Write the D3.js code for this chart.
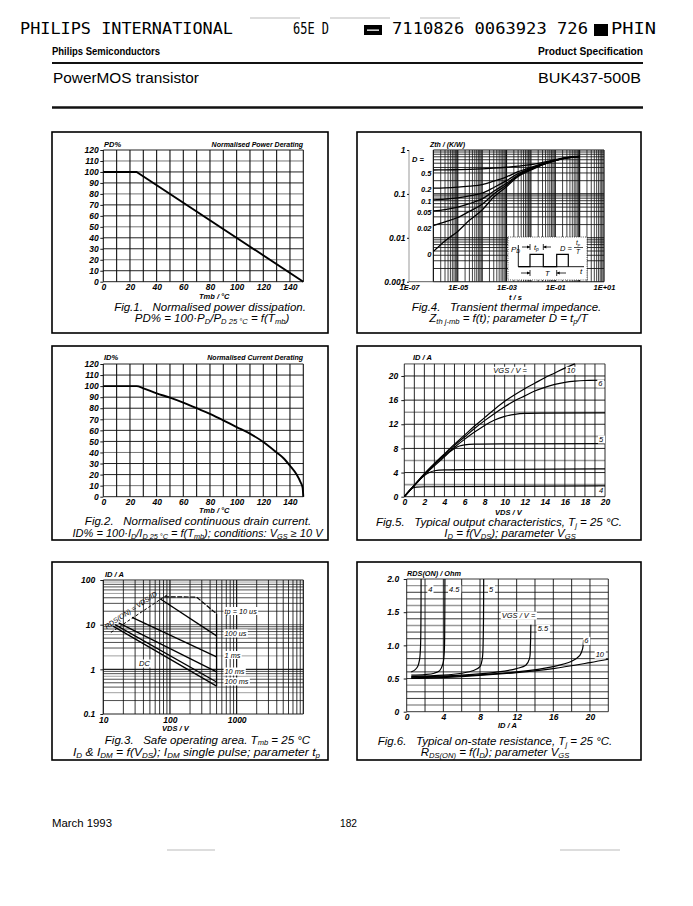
<!DOCTYPE html>
<html><head><meta charset="utf-8">
<script src="https://cdn.jsdelivr.net/npm/d3@7"></script>
<style>html,body{margin:0;padding:0;background:#fff}svg{display:block}</style>
</head><body>
<svg id="page" width="693" height="906"></svg>
<script>
// ================= DATA =================
// Fig.1 power derating
const fig1TicksX=[0,20,40,60,80,100,120,140];
const fig1TicksY=[0,10,20,30,40,50,60,70,80,90,100,110,120];
const fig1Temp=[0,25,150];
const fig1PD=[100,100,0];
// Fig.2 current derating
const fig2TicksX=[0,20,40,60,80,100,120,140];
const fig2TicksY=[0,10,20,30,40,50,60,70,80,90,100,110,120];
const fig2Temp=[0,25,30,40,50,60,70,80,90,100,110,120,130,135,140,145,148,149.5,150];
const fig2ID=[100,100,98,93.5,89.5,85,80,75,69,63,57,49.5,40,35,28,20,13,8,0];
// Fig.3 safe operating area  [VDS, ID]
const fig3TicksX=[10,100,1000];
const fig3TicksY=[0.1,1,10,100];
const soaRds=[[13,6.7],[90,46]];
const soa10us=[[82,42],[250,41.5],[500,17.5]];
const soa100us=[[71,38],[500,5.6]];
const soa1ms=[[27,14.5],[500,1.9]];
const soa10ms=[[17,11],[500,0.88]];
const soa100ms=[[15,10],[500,0.52]];
const soaDC=[[14,9.3],[500,0.42]];
const soaLabels=["tp = 10 us","100 us","1 ms","10 ms","100 ms"];
// Fig.4 transient thermal impedance
const fig4TicksX=[1e-7,1e-5,1e-3,1e-1,1e1];
const fig4TickLabelsX=["1E-07","1E-05","1E-03","1E-01","1E+01"];
const fig4TicksY=[1,0.1,0.01,0.001];
const fig4TickLabelsY=["1","0.1","0.01","0.001"];
const fig4Time=[1e-6,3e-6,1e-5,3e-5,1e-4,3e-4,1e-3,3e-3,1e-2,3e-2,1e-1,3e-1,1];
const zthD05=[0.35,0.352,0.356,0.362,0.372,0.385,0.405,0.43,0.465,0.52,0.6,0.675,0.715];
const zthD02=[0.135,0.137,0.142,0.15,0.163,0.195,0.245,0.32,0.4,0.49,0.59,0.67,0.712];
const zthD01=[0.073,0.076,0.081,0.09,0.104,0.14,0.2,0.29,0.38,0.48,0.585,0.665,0.71];
const zthD005=[0.041,0.044,0.05,0.06,0.077,0.115,0.175,0.27,0.37,0.47,0.58,0.665,0.71];
const zthD002=[0.019,0.023,0.029,0.04,0.058,0.1,0.16,0.26,0.36,0.465,0.575,0.66,0.71];
const zthD0=[0.0049,0.0085,0.014,0.025,0.043,0.085,0.146,0.25,0.35,0.46,0.57,0.66,0.71];
const fig4Duty=["0.5","0.2","0.1","0.05","0.02","0"];
// Fig.5 output characteristics [VDS, ID]
const fig5TicksX=[0,2,4,6,8,10,12,14,16,18,20];
const fig5TicksY=[0,4,8,12,16,20];
const id10=[[0,0],[1,1.9],[2,3.8],[3,5.5],[4,7.1],[5,8.7],[6,10.2],[7,11.7],[8,13.1],[9,14.5],[10,15.8],[11,16.9],[12,17.9],[13,18.8],[14,19.7],[15,20.5],[16,21.3],[17,22]];
const id6=[[0,0],[1,1.9],[2,3.75],[3,5.4],[4,7.0],[5,8.5],[6,9.9],[7,11.3],[8,12.6],[9,13.8],[10,14.9],[11,15.9],[12,16.7],[13,17.5],[14,18.1],[15,18.6],[16,18.95],[17,19.15],[18,19.25],[20,19.3]];
const id55=[[0,0],[1,1.85],[2,3.7],[3,5.3],[4,6.8],[5,8.2],[6,9.5],[7,10.7],[8,11.8],[9,12.7],[10,13.3],[11,13.65],[12,13.8],[14,13.85],[20,13.9]];
const id5=[[0,0],[1,1.85],[2,3.6],[3,5.1],[4,6.6],[4.5,7.4],[5,8.0],[5.5,8.4],[6,8.6],[7,8.7],[10,8.75],[20,8.8]];
const id45=[[0,0],[0.5,1.0],[1,1.9],[1.5,2.8],[2,3.5],[2.5,4.0],[3,4.3],[4,4.45],[6,4.5],[20,4.6]];
const id4=[[0,0],[0.5,1.0],[0.8,1.4],[1.2,1.6],[2,1.65],[20,1.8]];
const fig5Labels=["10","6","5","4"];
// Fig.6 on-state resistance [ID, RDS]
const fig6TicksX=[0,4,8,12,16,20];
const fig6TicksY=[0,0.5,1.0,1.5,2.0];
const rds4=[[0.5,0.6],[0.9,0.63],[1.2,0.68],[1.4,0.78],[1.5,0.95],[1.55,1.3],[1.57,2.0]];
const rds45=[[0.5,0.55],[2,0.56],[3,0.58],[3.6,0.62],[3.95,0.72],[4.1,0.9],[4.15,1.3],[4.17,2.0]];
const rds5=[[0.5,0.53],[4,0.55],[6,0.58],[7.3,0.62],[8,0.68],[8.25,0.8],[8.35,1.1],[8.4,2.0]];
const rds55=[[0.5,0.52],[6,0.55],[10,0.6],[12,0.65],[13,0.7],[13.4,0.8],[13.5,1.0],[13.55,1.31]];
const rds6=[[0.5,0.51],[6,0.54],[12,0.6],[16,0.68],[18,0.76],[18.9,0.85],[19.2,0.95],[19.3,1.08]];
const rds10=[[0.5,0.5],[6,0.53],[12,0.59],[16,0.65],[20,0.74],[22,0.79]];
const fig6Labels=["4","4.5","5","5.5","6","10"];

// ================= HELPERS =================
const svg=d3.select('#page');
const SANS='"Liberation Sans", Arial, Helvetica, sans-serif';
const NARROW='"Liberation Sans Narrow", "Liberation Sans", Arial, sans-serif';
const MONO='"DejaVu Sans Mono", "Liberation Mono", monospace';
const CAP=11.5;

function txt(g,x,y,s,o={}){
  const t=g.append('text').attr('x',x).attr('y',y).text(s)
    .attr('font-family',o.family||SANS).attr('font-size',o.size||8)
    .attr('font-style',o.style||'italic').attr('font-weight',o.weight||'bold')
    .attr('text-anchor',o.anchor||'start').attr('fill',o.fill||'#000');
  if(o.len) t.attr('textLength',o.len).attr('lengthAdjust','spacingAndGlyphs');
  return t;
}
function labelBg(g,x,y,s,o={}){
  const t=txt(g,x,y,s,o);
  const b=t.node().getBBox();
  g.insert('rect',()=>t.node()).attr('x',b.x-1).attr('y',b.y+0.5).attr('width',b.width+2).attr('height',b.height-1).attr('fill','#fff');
  return t;
}
const S=s=>({s});
function rich(g,x,y,parts,o={}){
  const size=o.size||CAP;
  const t=g.append('text').attr('x',x).attr('y',y)
    .attr('font-family',SANS).attr('font-size',size).attr('font-style','italic')
    .attr('text-anchor',o.anchor||'middle').attr('xml:space','preserve').style('white-space','pre');
  if(o.len) t.attr('textLength',o.len).attr('lengthAdjust','spacingAndGlyphs');
  let down=false; const sh=size*(o.shift||0.18);
  parts.forEach(p=>{
    const sub=typeof p!=='string';
    const s=t.append('tspan').text(sub?p.s:p);
    if(sub){s.attr('font-size',size*0.66); if(!down){s.attr('dy',sh);down=true;}}
    else if(down){s.attr('dy',-sh);down=false;}
  });
  return t;
}
function frame(x0,y0,x1,y1){
  svg.append('rect').attr('x',x0).attr('y',y0).attr('width',x1-x0).attr('height',y1-y0)
    .attr('fill','none').attr('stroke','#000').attr('stroke-width',1.6);
}
function vline(g,x,y0,y1,w,c){g.append('line').attr('x1',x).attr('x2',x).attr('y1',y0).attr('y2',y1).attr('stroke',c||'#000').attr('stroke-width',w||0.8);}
function hline(g,y,x0,x1,w,c){g.append('line').attr('x1',x0).attr('x2',x1).attr('y1',y).attr('y2',y).attr('stroke',c||'#000').attr('stroke-width',w||0.8);}
function styleAxis(a,size){
  a.select('.domain').remove();
  a.attr('font-family',SANS).attr('font-size',size||8.5);
  a.selectAll('text').attr('font-style','italic').attr('font-weight','bold').attr('fill','#000');
  a.selectAll('line').attr('stroke','#000').attr('stroke-width',0.9);
}
function logVals(a,b){
  const out=[];
  for(let e=Math.round(Math.log10(a));e<Math.round(Math.log10(b));e++){
    for(let m=1;m<10;m++) out.push({v:m*Math.pow(10,e),major:m===1});
  }
  out.push({v:b,major:true});
  return out;
}
function plotLine(g,data,x,y,o={}){
  const ln=d3.line().x(d=>x(d[0])).y(d=>y(d[1])).curve(o.curve||d3.curveLinear);
  const p=g.append('path').datum(data).attr('d',ln).attr('fill','none')
    .attr('stroke','#000').attr('stroke-width',o.w||1.4).attr('stroke-linejoin','round');
  if(o.dash) p.attr('stroke-dasharray',o.dash);
  return p;
}

// ================= HEADER =================
txt(svg,20,34,"PHILIPS INTERNATIONAL",{family:MONO,size:15,style:'normal',weight:'normal',len:213});
txt(svg,293,34,"65E D",{family:MONO,size:15,style:'normal',weight:'normal',len:36});
svg.append('rect').attr('x',364).attr('y',25).attr('width',18).attr('height',10).attr('fill','#000');
svg.append('rect').attr('x',367).attr('y',29.5).attr('width',12).attr('height',1.3).attr('fill','#fff');
txt(svg,392,34,"7110826 0063923 726",{family:MONO,size:15,style:'normal',weight:'normal',len:196});
svg.append('rect').attr('x',594).attr('y',24).attr('width',14).attr('height',12).attr('fill','#000');
txt(svg,611,34,"PHIN",{family:MONO,size:15,style:'normal',weight:'normal',len:45});
txt(svg,52,55,"Philips Semiconductors",{family:NARROW,size:11,style:'normal',weight:'bold',len:108});
txt(svg,643,55,"Product Specification",{family:NARROW,size:11,style:'normal',weight:'bold',anchor:'end',len:105});
hline(svg,63,52,643,2,'#111');
txt(svg,53,83,"PowerMOS transistor",{size:15.5,style:'normal',weight:'normal',len:146});
txt(svg,641,83,"BUK437-500B",{size:15.5,style:'normal',weight:'normal',anchor:'end',len:103});
hline(svg,107.5,52,643,2.4,'#111');

// ================= FIG 1 =================
(function(){
  const g=svg.append('g');
  frame(52,132,328,333);
  const x=d3.scaleLinear().domain([0,150]).range([103.3,303.3]);
  const y=d3.scaleLinear().domain([0,120]).range([281.7,150]);
  d3.range(0,121,10).forEach(v=>hline(g,y(v),x(0),x(150),1,(v%30===20||v===110)?'#777':'#222'));
  d3.range(0,151,10).forEach(v=>vline(g,x(v),y(0),y(120),1.1,'#111'));
  const ax=g.append('g').attr('transform',`translate(${x(0)},0)`).call(d3.axisLeft(y).tickValues(fig1TicksY).tickSize(3).tickPadding(1.5));
  styleAxis(ax);
  const bx=g.append('g').attr('transform',`translate(0,${y(0)})`).call(d3.axisBottom(x).tickValues(fig1TicksX).tickSize(0).tickPadding(2.5));
  styleAxis(bx);
  plotLine(g,d3.zip(fig1Temp,fig1PD),x,y,{w:1.9});
  txt(g,104,147,"PD%",{size:7.5});
  txt(g,303,147,"Normalised Power Derating",{size:7,anchor:'end'});
  txt(g,199,298.5,"Tmb / °C",{size:7.5});
  rich(g,210,311,["Fig.1.   Normalised power dissipation."]);
  rich(g,212,322,["PD% = 100·P",S("D"),"/P",S("D 25 °C")," = f(T",S("mb"),")"]);
})();

// ================= FIG 2 =================
(function(){
  const g=svg.append('g');
  frame(52,346,328,540);
  const x=d3.scaleLinear().domain([0,150]).range([103.3,303.3]);
  const y=d3.scaleLinear().domain([0,120]).range([496.7,364]);
  d3.range(0,121,10).forEach(v=>hline(g,y(v),x(0),x(150),1,(v%30===10||v===100)?'#777':'#222'));
  d3.range(0,151,10).forEach(v=>vline(g,x(v),y(0),y(120),1.1,'#111'));
  const ax=g.append('g').attr('transform',`translate(${x(0)},0)`).call(d3.axisLeft(y).tickValues(fig2TicksY).tickSize(3).tickPadding(1.5));
  styleAxis(ax);
  const bx=g.append('g').attr('transform',`translate(0,${y(0)})`).call(d3.axisBottom(x).tickValues(fig2TicksX).tickSize(0).tickPadding(2.5));
  styleAxis(bx);
  plotLine(g,d3.zip(fig2Temp,fig2ID),x,y,{w:1.9,curve:d3.curveMonotoneX});
  txt(g,104,360,"ID%",{size:7.5});
  txt(g,303,360,"Normalised Current Derating",{size:7,anchor:'end'});
  txt(g,199,513,"Tmb / °C",{size:7.5});
  rich(g,198,525,["Fig.2.   Normalised continuous drain current."]);
  rich(g,197.5,537.3,["ID% = 100·I",S("D"),"/I",S("D 25 °C")," = f(T",S("mb"),"); conditions: V",S("GS")," ≥ 10 V"],{len:250,size:10.6});
})();

// ================= FIG 3 =================
(function(){
  const g=svg.append('g');
  frame(52,562,328,760);
  const x=d3.scaleLog().domain([10,10000]).range([103.3,303.3]);
  const y=d3.scaleLog().domain([0.1,100]).range([714,580]);
  logVals(0.1,100).forEach((d,i)=>hline(g,y(d.v),x(10),x(10000),d.major?1.1:0.8,(i%4===2)?'#888':'#222'));
  logVals(10,10000).forEach(d=>vline(g,x(d.v),y(0.1),y(100),d.major?1.2:0.85,'#111'));
  const ax=g.append('g').attr('transform',`translate(${x(10)},0)`).call(d3.axisLeft(y).tickValues(fig3TicksY).tickFormat(d3.format('~g')).tickSize(3).tickPadding(5));
  styleAxis(ax);
  const bx=g.append('g').attr('transform',`translate(0,${y(0.1)})`).call(d3.axisBottom(x).tickValues(fig3TicksX).tickFormat(d3.format('d')).tickSize(0).tickPadding(3));
  styleAxis(bx);
  plotLine(g,soaRds,x,y,{w:1,dash:'3,2'});
  plotLine(g,soa10us,x,y,{w:1.2,dash:'5,1.5'});
  plotLine(g,soa100us,x,y,{w:1.3});
  plotLine(g,soa1ms,x,y,{w:1.3});
  plotLine(g,soa10ms,x,y,{w:1.3});
  plotLine(g,soa100ms,x,y,{w:1.3});
  plotLine(g,soaDC,x,y,{w:1.3});
  // VDS max limit joins the line ends
  plotLine(g,[soa10us[soa10us.length-1],soaDC[soaDC.length-1]],x,y,{w:1.3});
  // RDS(ON) label along the dashed line
  const ang=Math.atan2(y(soaRds[1][1])-y(soaRds[0][1]),x(soaRds[1][0])-x(soaRds[0][0]))*180/Math.PI;
  const mx=x(30), my=y(30/1.94);
  g.append('text').attr('transform',`translate(${mx-3},${my-4}) rotate(${ang})`).attr('text-anchor','middle')
    .attr('font-family',SANS).attr('font-size',7).attr('font-style','italic').text("RDS(ON) = VDS/ID");
  const lbY=[613.5,636,657.5,674,684];
  soaLabels.forEach((s,i)=>labelBg(g,x(500)+8,lbY[i],s,{size:7.3,weight:'normal'}));
  labelBg(g,139,666,"DC",{size:7.5,weight:'normal'});
  txt(g,105,577,"ID / A",{size:7.5});
  txt(g,162,731,"VDS / V",{size:7.5});
  rich(g,207.5,743.5,["Fig.3.   Safe operating area. T",S("mb")," = 25 °C"],{shift:0.1});
  rich(g,196.5,756,["I",S("D")," & I",S("DM")," = f(V",S("DS"),"); I",S("DM")," single pulse; parameter t",S("p")],{len:247,size:10.6});
})();

// ================= FIG 4 =================
(function(){
  const g=svg.append('g');
  frame(357,132,641,333);
  const x=d3.scaleLog().domain([1e-7,1e1]).range([409,604]);
  const y=d3.scaleLog().domain([0.001,1]).range([281.7,150]);
  logVals(0.001,1).forEach(d=>hline(g,y(d.v),x(1e-6),x(1e1),d.major?1.1:0.85,'#111'));
  logVals(1e-6,1e1).forEach(d=>vline(g,x(d.v),y(0.001),y(1),d.major?1.2:0.8,'#111'));
  vline(g,x(1e-7),y(0.001),y(1),0.6,'#555');
  hline(g,y(0.001),x(1e-7),x(1e-6),0.8,'#333');
  const ax=g.append('g').attr('transform',`translate(${x(1e-7)},0)`).call(d3.axisLeft(y).tickValues(fig4TicksY).tickFormat((d,i)=>fig4TickLabelsY[i]).tickSize(2).tickPadding(1.5));
  styleAxis(ax);
  const bx=g.append('g').attr('transform',`translate(0,${y(0.001)})`).call(d3.axisBottom(x).tickValues(fig4TicksX).tickFormat((d,i)=>fig4TickLabelsX[i]).tickSize(0).tickPadding(2.5));
  styleAxis(bx,7.5);
  const series=[zthD05,zthD02,zthD01,zthD005,zthD002,zthD0];
  series.forEach(s=>plotLine(g,d3.zip(fig4Time,s),x,y,{w:1.3,curve:d3.curveMonotoneX}));
  const dyLab=[173.5,189,201,212.5,228.5,254];
  fig4Duty.forEach((s,i)=>txt(g,431.5,dyLab[i]+2.5,s,{size:7.5,anchor:'end'}));
  txt(g,412,162,"D =",{size:7.5});
  txt(g,430,146.5,"Zth / (K/W)",{size:7});
  txt(g,509,300,"t / s",{size:7.5});
  // inset pulse diagram
  const ins=g.append('g');
  ins.append('rect').attr('x',508).attr('y',237).attr('width',79).attr('height',43).attr('fill','#fff')
    .attr('stroke','#222').attr('stroke-width',0.8).attr('stroke-dasharray','1,1.2');
  ins.append('path').attr('d','M518.3,245 V266.7 H584').attr('fill','none').attr('stroke','#000').attr('stroke-width',0.9);
  ins.append('path').attr('d','M518.3,266.7 H530 V254.3 H543.3 V266.7 H556.7 V254.3 H568.3 V266.7').attr('fill','none').attr('stroke','#000').attr('stroke-width',1.2);
  const arrow=(x0,x1,yy)=>{
    ins.append('line').attr('x1',x0).attr('x2',x1).attr('y1',yy).attr('y2',yy).attr('stroke','#000').attr('stroke-width',0.8);
    const dir=x1>x0?1:-1;
    ins.append('path').attr('d',`M${x1},${yy} l${-dir*3},-1.4 v2.8 z`).attr('fill','#000');
    ins.append('line').attr('x1',x1).attr('x2',x1).attr('y1',yy-3).attr('y2',yy+3).attr('stroke','#000').attr('stroke-width',0.8);
  };
  arrow(522,530,247);arrow(551,543.3,247);
  arrow(521,530,273);arrow(566,556.7,273);
  rich(ins,511,251.5,["P",S("D")],{size:8,anchor:'start'});
  rich(ins,534,250,["t",S("p")],{size:7.5,anchor:'start'});
  txt(ins,545,276,"T",{size:7.5,weight:'normal'});
  txt(ins,580,274,"t",{size:8,weight:'normal'});
  txt(ins,560,251,"D =",{size:7.5,weight:'normal'});
  rich(ins,578,245,["t",S("p")],{size:6.5});
  ins.append('line').attr('x1',574).attr('x2',583).attr('y1',247.5).attr('y2',247.5).attr('stroke','#000').attr('stroke-width',0.7);
  txt(ins,578,254,"T",{size:6.5,weight:'normal',anchor:'middle'});
  rich(g,506.5,311,["Fig.4.   Transient thermal impedance."]);
  rich(g,508.5,322,["Z",S("th j-mb")," = f(t); parameter D = t",S("p"),"/T"]);
})();

// ================= FIG 5 =================
(function(){
  const g=svg.append('g');
  frame(357,346,641,540);
  const x=d3.scaleLinear().domain([0,20]).range([404.3,605]);
  const y=d3.scaleLinear().domain([0,22]).range([496.7,363.9]);
  d3.range(0,23,2).forEach(v=>hline(g,y(v),x(0),x(20),v%4===2?1.6:1,v%4===2?'#999':'#222'));
  d3.range(0,21,1).forEach(v=>vline(g,x(v),y(0),y(22),0.9,'#111'));
  const ax=g.append('g').attr('transform',`translate(${x(0)},0)`).call(d3.axisLeft(y).tickValues(fig5TicksY).tickSize(3).tickPadding(3));
  styleAxis(ax);
  const bx=g.append('g').attr('transform',`translate(0,${y(0)})`).call(d3.axisBottom(x).tickValues(fig5TicksX).tickSize(0).tickPadding(2.5));
  styleAxis(bx);
  [id10,id6,id55,id5,id45,id4].forEach(s=>plotLine(g,s,x,y,{w:1.2,curve:d3.curveMonotoneX}));
  labelBg(g,x(8.87),y(20.45),"VGS / V =",{size:7.5,weight:'normal'});
  const pos=[[16.2,20.45],[19.33,18.35],[19.4,9.06],[19.4,0.55]];
  fig5Labels.forEach((s,i)=>labelBg(g,x(pos[i][0]),y(pos[i][1]),s,{size:7.5,weight:'normal'}));
  txt(g,413,359.5,"ID / A",{size:7.5});
  txt(g,495,514.5,"VDS / V",{size:7.5});
  rich(g,499,525.5,["Fig.5.   Typical output characteristics, T",S("j")," = 25 °C."]);
  rich(g,510,536.5,["I",S("D")," = f(V",S("DS"),"); parameter V",S("GS")]);
})();

// ================= FIG 6 =================
(function(){
  const g=svg.append('g');
  frame(357,562,641,760);
  const x=d3.scaleLinear().domain([0,22]).range([406.7,608.3]);
  const y=d3.scaleLinear().domain([0,2]).range([711.7,579]);
  d3.range(0,21,1).forEach(i=>hline(g,y(i/10),x(0),x(22),(i%3===1)?1.4:0.9,(i%3===1)?'#999':'#222'));
  d3.range(0,23,2).forEach(v=>vline(g,x(v),y(0),y(2),0.9,'#111'));
  const ax=g.append('g').attr('transform',`translate(${x(0)},0)`).call(d3.axisLeft(y).tickValues(fig6TicksY).tickFormat(d=>d===0?"0":d3.format('.1f')(d)).tickSize(3).tickPadding(4.5));
  styleAxis(ax);
  const bx=g.append('g').attr('transform',`translate(0,${y(0)})`).call(d3.axisBottom(x).tickValues(fig6TicksX).tickSize(0).tickPadding(2.5));
  styleAxis(bx);
  [rds4,rds45,rds5,rds55,rds6,rds10].forEach(s=>plotLine(g,s,x,y,{w:1.2,curve:d3.curveCatmullRom.alpha(0.5)}));
  const pos=[[2.36,1.81],[4.62,1.81],[8.98,1.81],[14.29,1.21],[19.38,1.03],[20.62,0.82]];
  fig6Labels.forEach((s,i)=>labelBg(g,x(pos[i][0]),y(pos[i][1]),s,{size:7.5,weight:'normal'}));
  labelBg(g,x(10.37),y(1.41),"VGS / V =",{size:7.5,weight:'normal'});
  txt(g,407,575.5,"RDS(ON) / Ohm",{size:7.3});
  txt(g,498,727.5,"ID / A",{size:7.5});
  rich(g,495,744.5,["Fig.6.   Typical on-state resistance, T",S("j")," = 25 °C."]);
  rich(g,495,755.5,["R",S("DS(ON)")," = f(I",S("D"),"); parameter V",S("GS")]);
})();

// ================= FOOTER =================
txt(svg,52,827,"March 1993",{family:NARROW,size:11,style:'normal',weight:'normal',len:60});
txt(svg,340,827,"182",{family:NARROW,size:11,style:'normal',weight:'normal',len:17});
// faint scan marks
[[167,215,850],[560,620,850],[250,300,18],[330,390,18],[420,460,18]].forEach(d=>hline(svg,d[2],d[0],d[1],0.8,'#aaa'));
</script>
</body></html>
